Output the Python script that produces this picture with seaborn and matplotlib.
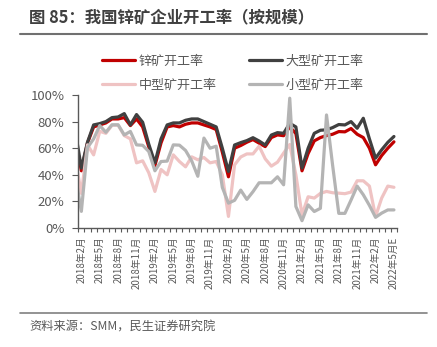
import numpy as np
import pandas as pd
import matplotlib
matplotlib.use("Agg")
import matplotlib.pyplot as plt
import seaborn as sns
from matplotlib.lines import Line2D

# ---- data (monthly, 2018-01 .. 2022-05; first point lies just outside the axis) ----
series_names = ["锌矿开工率", "大型矿开工率", "中型矿开工率", "小型矿开工率"]
series_colors = ["#C00000", "#404040", "#EFC3C3", "#B4B4B4"]

zinc_total = [68, 43, 64, 76, 77.5, 79, 82, 82, 83, 77, 82, 76, 61, 47, 64, 76, 77, 76, 78, 79,
              79, 77.5, 76, 74, 57, 38.5, 60, 62, 64.5, 66.5, 63.8, 61.2, 68, 70, 69.4, 76, 71,
              43, 56, 65.5, 68, 69.5, 70.5, 72.5, 72.3, 74.8, 70.5, 68, 60, 47.5, 54.5, 60, 64.8]
large_mine = [73, 45, 64.5, 77.5, 78.5, 80, 83, 83.5, 86, 77.5, 85.3, 79.5, 63, 49, 67, 77.5, 79,
              79, 81, 82, 82, 80, 78, 76, 60, 42.5, 62.4, 64.2, 65.7, 67.9, 65.4, 62.4, 69.9, 71.7,
              71.2, 78.7, 76, 45, 60, 71.2, 73.5, 73.8, 75.5, 77.8, 77.5, 80, 75, 82.5, 67, 52.5,
              58.8, 64.4, 68.8]
medium_mine = [52, 26, 62.5, 55, 72.7, 71.2, 77.3, 77.3, 69.5, 67, 49, 50.5, 41.5, 27.5, 44, 40,
               55, 50, 46, 53.5, 51.3, 53, 49, 50, 40, 8.7, 47.5, 53.4, 55.7, 55.7, 61.5, 52, 46.5,
               49.5, 56.3, 62.8, 40, 10, 23.5, 22.5, 26, 27.5, 26.5, 26.2, 25.8, 27, 35.5, 35.5,
               31.5, 8.6, 22.5, 31.5, 30.6]
small_mine = [40, 12.5, 60.5, 67, 77, 72, 77.6, 77.6, 70, 72.6, 62.5, 62.2, 57.5, 43, 50, 50.3,
              62.5, 62.3, 58.3, 50.5, 38.9, 67.6, 60, 61.5, 30.5, 18.7, 20.8, 28.5, 21.5, 27.3, 34,
              34, 34, 38.5, 32.5, 97.6, 16.2, 5.5, 17.4, 12.4, 14.8, 85, 47, 11, 11, 21, 31.5, 25,
              17, 8, 11.2, 13.6, 13.6]

tick_labels = ["2018年2月", "2018年5月", "2018年8月", "2018年11月", "2019年2月", "2019年5月",
               "2019年8月", "2019年11月", "2020年2月", "2020年5月", "2020年8月", "2020年11月",
               "2021年2月", "2021年5月", "2021年8月", "2021年11月", "2022年2月", "2022年5月E"]

y_ticks = [0, 20, 40, 60, 80, 100]

title = "图 85：我国锌矿企业开工率（按规模）"
source = "资料来源：SMM，民生证券研究院"

# ---- build table ----
n = len(zinc_total)
idx = np.arange(n)
frames = []
for name, vals in zip(series_names, [zinc_total, large_mine, medium_mine, small_mine]):
    frames.append(pd.DataFrame({"idx": idx, "value": vals, "series": name}))
df = pd.concat(frames, ignore_index=True)

sns.set_theme(style="ticks")
plt.rcParams["font.family"] = ["Noto Sans CJK SC", "DejaVu Sans"]
plt.rcParams["axes.unicode_minus"] = False

W, H = 437, 347
fig = plt.figure(figsize=(W / 100, H / 100), dpi=100)
ax = fig.add_axes([78.3 / W, 1 - 228 / H, (397 - 78.3) / W, (228 - 95) / H])

palette = dict(zip(series_names, series_colors))
sns.lineplot(data=df, x="idx", y="value", hue="series", hue_order=series_names,
             palette=palette, linewidth=2.3, legend=False, sort=False, ax=ax)

ax.set_xlim(0.5, n - 0.5)
ax.set_ylim(0, 100)
ax.set_xlabel("")
ax.set_ylabel("")

# x ticks: labels every 3 months at the points, small ticks at every category edge
label_pos = np.arange(1, n, 3)
ax.set_xticks(label_pos)
ax.set_xticklabels(tick_labels, rotation=90, fontsize=7, color="#595959")
ax.tick_params(axis="x", which="major", length=0, pad=6)
ax.set_xticks(np.arange(0.5, n, 1), minor=True)
ax.tick_params(axis="x", which="minor", length=3, width=0.8, color="#595959", direction="out")

ax.set_yticks(y_ticks)
ax.set_yticklabels([f"{v}%" for v in y_ticks], fontsize=9.5, color="#595959")
ax.tick_params(axis="y", length=4, width=0.8, color="#595959", pad=6)

for side in ["top", "right"]:
    ax.spines[side].set_visible(False)
for side in ["left", "bottom"]:
    ax.spines[side].set_color("#595959")
    ax.spines[side].set_linewidth(1.0)

# legend (2 columns, filled column-wise -> reorder so rows read like the reference)
order = [0, 2, 1, 3]
handles = [Line2D([0], [0], color=series_colors[i], lw=2.3) for i in order]
labels = [series_names[i] for i in order]
fig.legend(handles, labels, loc="upper left", bbox_to_anchor=(102 / W, 1 - 55 / H),
           ncol=2, frameon=False, fontsize=9.4, handlelength=2.5, handletextpad=0.3,
           columnspacing=2.5, labelspacing=0.8, borderpad=0, borderaxespad=0,
           labelcolor="#595959")

# title, rules and source
fig.text(29 / W, 1 - 18 / H, title, ha="left", va="center", fontsize=11.8,
         fontweight="bold", color="#404040")
fig.add_artist(Line2D([20 / W, 427 / W], [1 - 34 / H] * 2, transform=fig.transFigure,
                      color="#707070", lw=1.5))
fig.add_artist(Line2D([20 / W, 427 / W], [1 - 313 / H] * 2, transform=fig.transFigure,
                      color="#808080", lw=1.2))
fig.text(29 / W, 1 - 327 / H, source, ha="left", va="center", fontsize=8.8, color="#595959")

fig.savefig("out.png", dpi=100)
